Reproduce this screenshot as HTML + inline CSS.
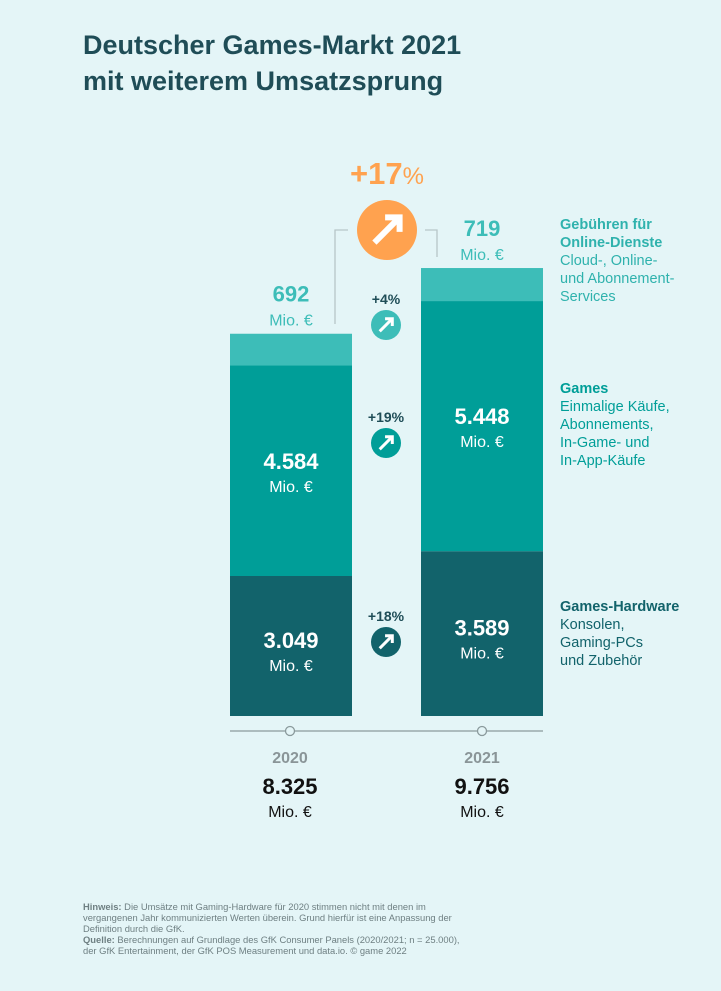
<!DOCTYPE html>
<html><head><meta charset="utf-8"><style>
body{margin:0;width:721px;height:991px;background:#e4f5f7;font-family:"Liberation Sans",sans-serif;overflow:hidden;position:relative}
.t{position:absolute;white-space:nowrap}
</style></head><body>
<div class="t" style="left:83px;top:27px;font-size:27px;font-weight:bold;color:#1f4d57;line-height:36px">Deutscher Games-Markt 2021<br>mit weiterem Umsatzsprung</div>
<svg id="c" width="721" height="991" style="position:absolute;left:0;top:0"></svg>
<div class="t" style="left:83px;top:901px;font-size:9.4px;line-height:11px;color:#6e7f82"><b>Hinweis:</b> Die Umsätze mit Gaming-Hardware für 2020 stimmen nicht mit denen im<br>vergangenen Jahr kommunizierten Werten überein. Grund hierfür ist eine Anpassung der<br>Definition durch die GfK.<br><b>Quelle:</b> Berechnungen auf Grundlage des GfK Consumer Panels (2020/2021; n = 25.000),<br>der GfK Entertainment, der GfK POS Measurement und data.io. © game 2022</div>
<script>
const years=['2020','2021'];
const hardware=[3049,3589];
const games=[4584,5448];
const fees=[692,719];
const totals=['8.325','9.756'];
const growth=['+18%','+19%','+4%'];
const labels={hw:['3.049','3.589'],g:['4.584','5.448'],f:['692','719']};
const NS='http://www.w3.org/2000/svg';
const svg=document.getElementById('c');
const base=716,scale=140/3049,barX=[230,421],barW=122;
const y=v=>base-v*scale;
function el(tag,a,txt){const e=document.createElementNS(NS,tag);for(const k in a)e.setAttribute(k,a[k]);if(txt!==undefined)e.textContent=txt;svg.appendChild(e);return e;}
function txt(x,yy,s,size,fill,w){const e=el('text',{x:x,y:yy,'font-size':size,fill:fill,'text-anchor':'middle','font-family':'Liberation Sans, sans-serif','font-weight':w||'normal'},s);return e;}
const cols=['#12636b','#009e98','#3dbdb8'];
years.forEach((yr,i)=>{
  const segs=[hardware[i],games[i],fees[i]];let acc=0;
  const names=['hardware','games','fees'];
  segs.forEach((v,j)=>{
    const r=el('rect',{x:barX[i],y:y(acc+v),width:barW,height:v*scale,fill:cols[j]});
    
    
    acc+=v;
  });
  const cx=barX[i]+barW/2;
  const h0=hardware[i],g0=games[i];
  let t=txt(cx,y(h0/2)+2,labels.hw[i],22,'#fff','bold');
  txt(cx,y(h0/2)+25,'Mio. €',16,'#fff');
  t=txt(cx,y(h0+g0/2)+-2,labels.g[i],22,'#fff','bold');
  txt(cx,y(h0+g0/2)+21,'Mio. €',16,'#fff');
  const top=y(h0+g0+fees[i]);
  t=txt(cx,top-32,labels.f[i],22,'#3dbdb8','bold');
  txt(cx,top-8,'Mio. €',16,'#3dbdb8');
  const ax=i==0?290:482;
  const c=el('circle',{cx:ax,cy:731,r:4.5,fill:'#e4f5f7',stroke:'#8a9a9c','stroke-width':1.3});
  
  t=txt(ax,763,yr,16,'#8a9598','bold');
  txt(ax,794,totals[i],22,'#111','bold');
  txt(ax,817,'Mio. €',16,'#111');
});
el('line',{x1:230,y1:731,x2:286,y2:731,stroke:'#8a9a9c','stroke-width':1.3});
el('line',{x1:295,y1:731,x2:478,y2:731,stroke:'#8a9a9c','stroke-width':1.3});
el('line',{x1:487,y1:731,x2:543,y2:731,stroke:'#8a9a9c','stroke-width':1.3});
el('polyline',{points:'335,324 335,230 348,230',fill:'none',stroke:'#b7c6c8','stroke-width':1.3});
el('polyline',{points:'425,230 437,230 437,257',fill:'none',stroke:'#b7c6c8','stroke-width':1.3});
function arrow(cx,cy,r,fill,name){
  const g=el('circle',{cx:cx,cy:cy,r:r,fill:fill});
  const k=r*0.42;
  el('line',{x1:cx-k,y1:cy+k,x2:cx+k*0.8,y2:cy-k*0.8,stroke:'#fff','stroke-width':r*0.2});
  el('polyline',{points:`${cx-k*0.15},${cy-k} ${cx+k},${cy-k} ${cx+k},${cy+k*0.15}`,fill:'none',stroke:'#fff','stroke-width':r*0.2});
}
arrow(387,230,30,'#ffa24f','total-growth-icon');
let t=el('text',{x:387,y:184,'text-anchor':'middle','font-family':'Liberation Sans, sans-serif',fill:'#ffa24f'});
t.innerHTML='<tspan font-size="31" font-weight="bold">+17</tspan><tspan font-size="24">%</tspan>';

const gy=[642,443,325],gc=['#12636b','#009e98','#3dbdb8'],gn=['hardware','games','fees'];
growth.forEach((g,i)=>{
  const l=txt(386,gy[i]-21,g,14,'#1f4d57','bold');
  arrow(386,gy[i],15,gc[i],'growth-icon-'+gn[i]);
});
function legend(x,yy,title,lines,col,name){
  const e=el('text',{x:x,y:yy,'font-family':'Liberation Sans, sans-serif','font-size':14.5});
  
  let h='';title.forEach((s,k)=>h+=`<tspan x="${x}" dy="${k?18:0}" font-weight="bold" fill="${col}">${s}</tspan>`);
  lines.forEach(s=>h+=`<tspan x="${x}" dy="18" fill="${col}">${s}</tspan>`);
  e.innerHTML=h;
}
legend(560,229,['Gebühren für','Online-Dienste'],['Cloud-, Online-','und Abonnement-','Services'],'#2fb2ad','legend-fees');
legend(560,393,['Games'],['Einmalige Käufe,','Abonnements,','In-Game- und','In-App-Käufe'],'#009e98','legend-games');
legend(560,611,['Games-Hardware'],['Konsolen,','Gaming-PCs','und Zubehör'],'#12636b','legend-hardware');
</script>
</body></html>
